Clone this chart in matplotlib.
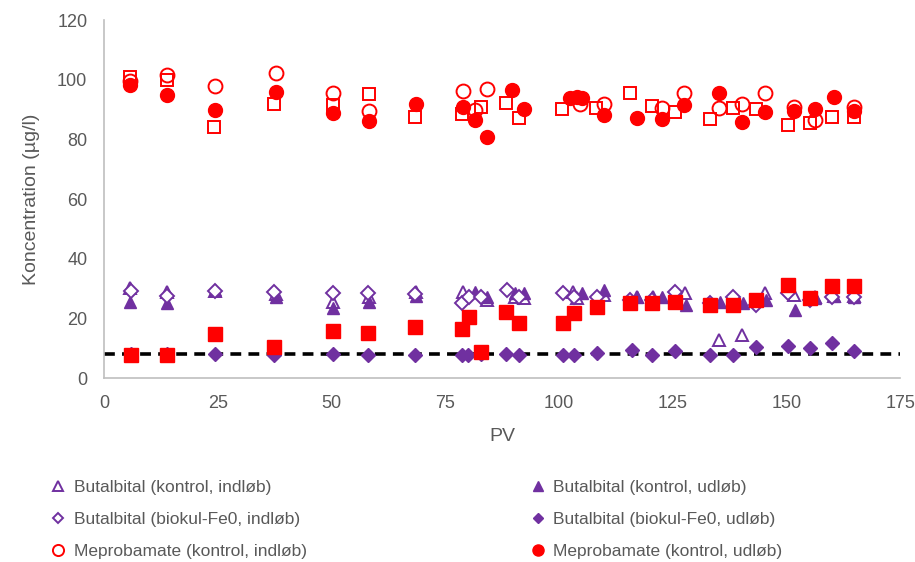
import matplotlib
matplotlib.use("Agg")
import matplotlib.pyplot as plt

PURPLE = "#7030A0"
RED = "#FF0000"
GREY_TXT = "#595959"

# --- Butalbital (kontrol, indløb) : open triangles
but_k_in_x = [5.7, 13.8, 24.4, 37.8, 50.3, 58.2, 68.5, 79.0, 84.2, 90.4, 92.3, 103.0, 104.0,
              109.8, 117.2, 120.7, 127.7, 135.2, 140.2, 145.3, 151.7, 156.3, 160.5, 164.9]
but_k_in_y = [30.2, 28.8, 29.0, 28.0, 25.5, 27.2, 28.8, 28.8, 26.1, 27.2, 26.8, 28.8, 26.8,
              27.8, 27.0, 27.2, 28.5, 12.7, 14.4, 28.5, 27.8, 27.0, 27.5, 27.5]

# --- Butalbital (kontrol, udløb) : filled triangles
but_k_out_x = [5.7, 13.8, 24.4, 37.8, 50.3, 58.2, 68.5, 81.6, 84.2, 90.4, 92.3, 105.0,
               109.8, 117.2, 122.6, 128.0, 135.4, 140.5, 145.5, 151.9, 156.3, 160.5, 164.9]
but_k_out_y = [25.5, 25.1, 29.5, 27.2, 23.5, 25.5, 27.5, 28.8, 27.2, 28.5, 28.5, 28.5,
               29.5, 27.2, 27.2, 24.5, 25.5, 25.1, 26.1, 22.8, 26.8, 27.5, 27.2]

# --- Butalbital (biokul-Fe0, indløb) : open diamonds
but_b_in_x = [5.9, 13.8, 24.3, 37.3, 50.3, 58.0, 68.4, 78.6, 80.3, 82.9, 88.6, 91.2, 100.9,
              103.3, 108.3, 115.6, 120.5, 125.5, 133.2, 138.3, 143.3, 150.4, 155.2, 160.0, 164.9]
but_b_in_y = [29.0, 27.5, 29.0, 28.8, 28.4, 28.4, 28.0, 25.1, 27.0, 27.0, 29.5, 27.0, 28.5,
              27.0, 27.0, 26.0, 26.0, 28.8, 25.0, 27.2, 24.5, 28.5, 26.0, 27.0, 27.0]

# --- Butalbital (biokul-Fe0, udløb) : filled diamonds
but_b_out_x = [5.9, 13.8, 24.3, 37.3, 50.3, 58.0, 68.4, 78.7, 80.1, 82.9, 88.4, 91.2, 100.9,
               103.3, 108.3, 116.0, 120.5, 125.5, 133.2, 138.3, 143.3, 150.4, 155.2, 160.0, 164.9]
but_b_out_y = [8.0, 8.0, 8.0, 7.7, 8.0, 7.7, 7.7, 7.7, 7.7, 8.0, 8.0, 7.7, 7.7,
               7.7, 8.4, 9.4, 7.7, 9.0, 7.7, 7.7, 10.4, 10.7, 10.0, 11.7, 9.0]

# --- Meprobamate (kontrol, indløb) : open circles
mep_k_in_x = [5.7, 13.8, 24.4, 37.8, 50.3, 58.2, 79.0, 81.6, 84.2, 104.6, 109.8, 122.6,
              127.5, 135.2, 140.2, 145.3, 151.7, 156.3, 164.9]
mep_k_in_y = [99.5, 101.5, 97.8, 102.2, 95.5, 89.4, 96.2, 89.8, 96.8, 91.8, 92.0, 90.5,
              95.6, 90.5, 91.8, 95.6, 90.8, 86.4, 90.8]

# --- Meprobamate (kontrol, udløb) : filled circles
mep_k_out_x = [5.7, 13.8, 24.4, 37.8, 50.3, 58.2, 68.5, 79.0, 81.6, 84.2, 89.7, 92.3, 102.4,
               104.0, 105.0, 109.8, 117.2, 122.6, 127.5, 135.2, 140.2, 145.3, 151.7, 156.3,
               160.5, 164.9]
mep_k_out_y = [98.2, 95.0, 90.0, 95.8, 88.8, 86.1, 92.0, 90.8, 86.4, 80.7, 96.5, 90.1, 93.8,
               94.2, 93.8, 88.1, 87.1, 86.8, 91.5, 95.5, 85.8, 89.1, 89.4, 90.1, 94.1, 89.4]

# --- Meprobamate (biokul-Fe0, indløb) : open squares (not in legend)
mep_b_in_x = [5.7, 13.8, 24.2, 37.4, 50.3, 58.2, 68.3, 78.6, 82.9, 88.4, 91.2, 100.7, 108.2,
              115.6, 120.5, 125.5, 133.2, 138.3, 143.3, 150.4, 155.2, 160.0, 164.9]
mep_b_in_y = [100.8, 100.0, 84.0, 91.8, 91.5, 95.1, 87.4, 88.4, 90.8, 92.1, 87.1, 90.1, 90.4,
              95.5, 91.1, 89.1, 86.8, 90.5, 90.1, 84.8, 85.4, 87.4, 87.4]

# --- Meprobamate (biokul-Fe0, udløb) : filled squares (not in legend)
mep_b_out_x = [5.9, 13.8, 24.3, 37.3, 50.3, 58.0, 68.4, 78.6, 80.3, 82.9, 88.4, 91.2, 100.9,
               103.3, 108.3, 115.6, 120.5, 125.5, 133.2, 138.3, 143.3, 150.4, 155.2, 160.0, 164.9]
mep_b_out_y = [7.7, 7.7, 14.7, 10.4, 15.7, 15.1, 17.1, 16.4, 20.4, 8.7, 22.1, 18.4, 18.4,
               21.8, 23.8, 25.1, 25.1, 25.5, 24.5, 24.5, 26.1, 31.2, 26.8, 30.8, 30.8]

detection_limit = 8

plt.rcParams["font.family"] = ["Liberation Sans", "DejaVu Sans"]

fig = plt.figure(figsize=(9.15, 5.62), dpi=100)
ax = fig.add_axes([0.1137, 0.3274, 0.87, 0.637])

ms = 10
mew = 1.4
h1, = ax.plot(but_k_in_x, but_k_in_y, "^", ms=ms * 0.9, mfc="white", mec=PURPLE, mew=mew,
              ls="none", label="Butalbital (kontrol, indløb)")
h2, = ax.plot(but_k_out_x, but_k_out_y, "^", ms=ms * 0.9, color=PURPLE, ls="none",
              label="Butalbital (kontrol, udløb)")
h3, = ax.plot(but_b_in_x, but_b_in_y, "D", ms=ms * 0.7, mfc="white", mec=PURPLE, mew=mew,
              ls="none", label="Butalbital (biokul-Fe0, indløb)")
h4, = ax.plot(but_b_out_x, but_b_out_y, "D", ms=ms * 0.7, color=PURPLE, ls="none",
              label="Butalbital (biokul-Fe0, udløb)")
ax.plot(mep_b_in_x, mep_b_in_y, "s", ms=ms * 0.9, mfc="white", mec=RED, mew=mew, ls="none")
ax.plot(mep_b_out_x, mep_b_out_y, "s", ms=ms * 0.95, color=RED, ls="none")
h5, = ax.plot(mep_k_in_x, mep_k_in_y, "o", ms=ms, mfc="none", mec=RED, mew=mew,
              ls="none", label="Meprobamate (kontrol, indløb)")
h6, = ax.plot(mep_k_out_x, mep_k_out_y, "o", ms=ms, color=RED, ls="none",
              label="Meprobamate (kontrol, udløb)")

ax.axhline(detection_limit, color="black", lw=2.6, ls=(0, (3, 2)), zorder=1)

ax.set_xlim(0, 175)
ax.set_ylim(0, 120)
ax.set_xticks(range(0, 176, 25))
ax.set_yticks(range(0, 121, 20))
ax.tick_params(length=0, labelsize=13, labelcolor=GREY_TXT, pad=12)
for side in ("top", "right"):
    ax.spines[side].set_visible(False)
for side in ("left", "bottom"):
    ax.spines[side].set_color("#BFBFBF")
    ax.spines[side].set_linewidth(1.2)

ax.set_xlabel("PV", fontsize=14, color=GREY_TXT, labelpad=12)
ax.set_ylabel("Koncentration (µg/l)", fontsize=14, color=GREY_TXT, labelpad=12)

# two legend columns placed separately
leg_kw = dict(loc="upper left", frameon=False, fontsize=12.5, markerscale=0.8,
              handlelength=0.8, handletextpad=0.5, labelspacing=0.98,
              borderpad=0, borderaxespad=0)
leg1 = fig.legend(handles=[h1, h3, h5], bbox_to_anchor=(0.0557, 0.1468), **leg_kw)
leg2 = fig.legend(handles=[h2, h4, h6], bbox_to_anchor=(0.580, 0.1468), **leg_kw)
for leg in (leg1, leg2):
    for t in leg.get_texts():
        t.set_color(GREY_TXT)

fig.savefig("out.png", dpi=100)
